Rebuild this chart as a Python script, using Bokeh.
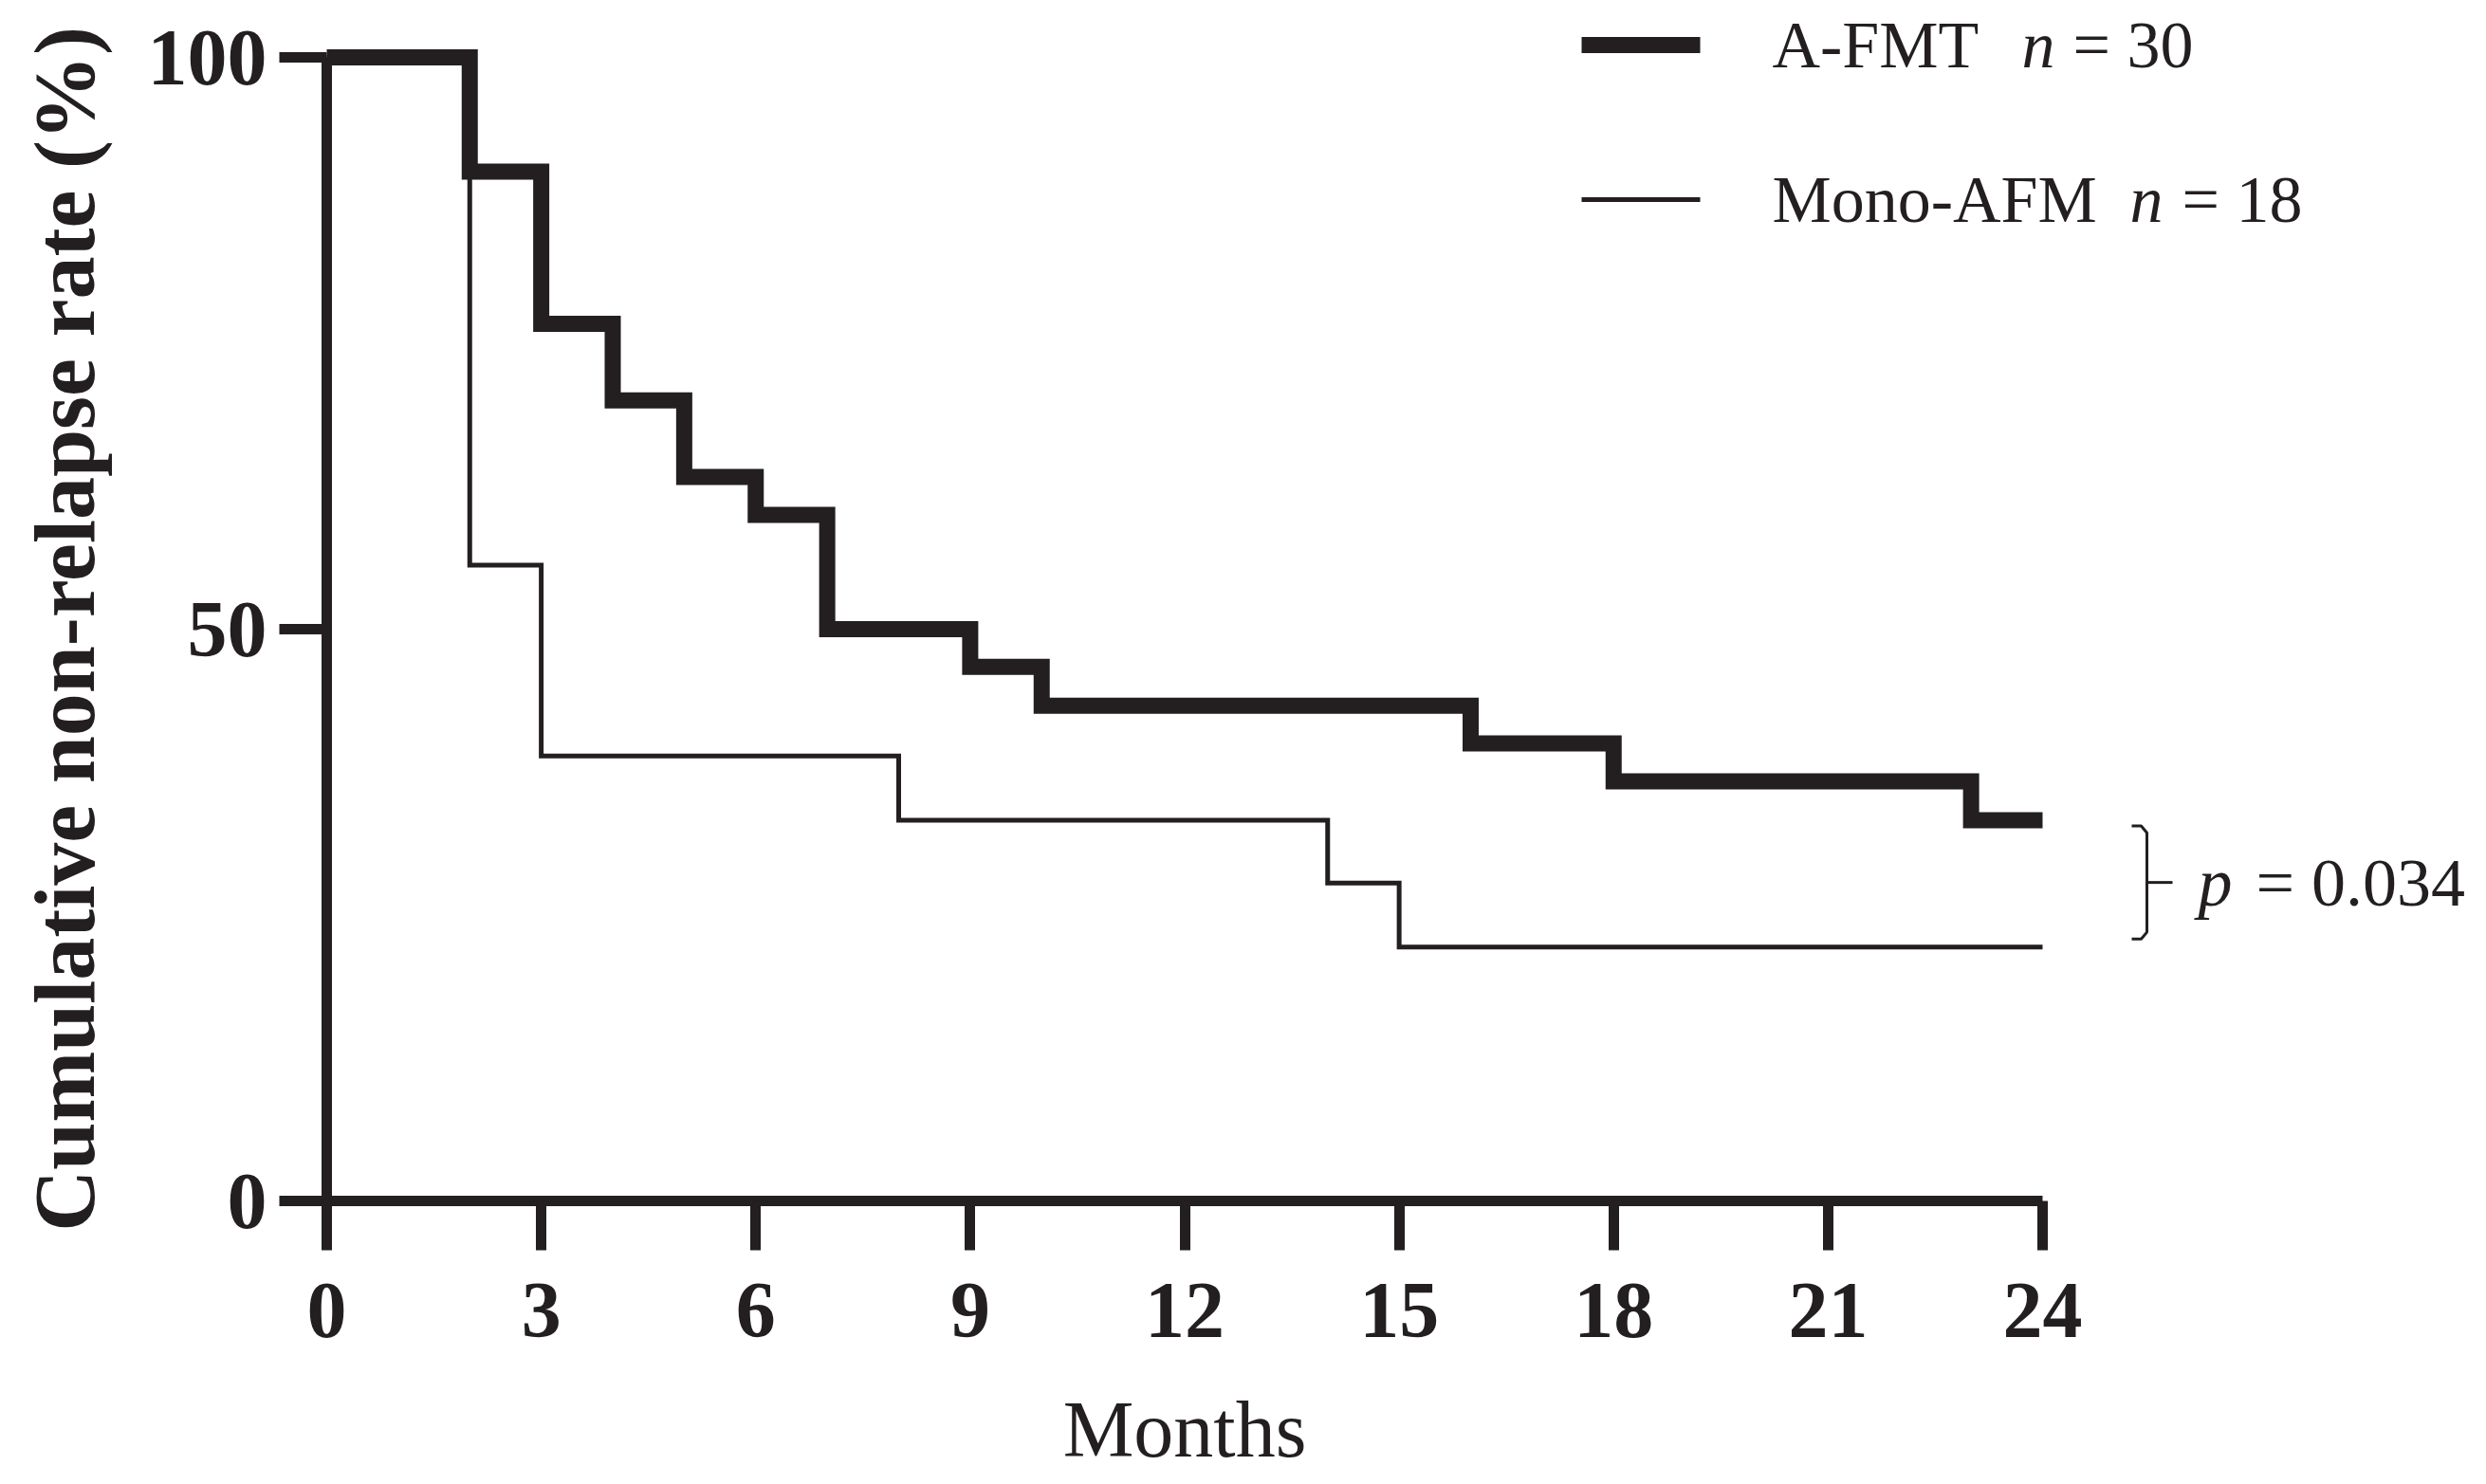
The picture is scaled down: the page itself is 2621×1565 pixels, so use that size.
from bokeh.plotting import figure
from bokeh.models import Range1d, FixedTicker
from bokeh.core.properties import value
from bokeh.embed import file_html
from bokeh.resources import INLINE

# ---- data ----
months_afmt = [0, 2, 3, 4, 5, 6, 7, 9, 10, 16, 18, 23, 24]
rate_afmt = [100.0, 90.0, 76.7, 70.0, 63.3, 60.0, 50.0, 46.7, 43.3, 40.0, 36.7, 33.3, 33.3]
months_mono = [0, 2, 3, 8, 14, 15, 24]
rate_mono = [100.0, 55.6, 38.9, 33.3, 27.8, 22.2, 22.2]
x_ticks = [0, 3, 6, 9, 12, 15, 18, 21, 24]
y_ticks = [0, 50, 100]
series_names = ["A-FMT", "Mono-AFM"]
series_n = ["30", "18"]
series_widths = [17, 5]
p_text = "0.034"

BLACK = "#231f20"
FONT = "Liberation Serif"

# ---- layout (page pixels of the reference) ----
W, H = 2621, 1565
FL, FR, FT, FB = 344, 2153, 60, 1266   # where x=0..24 and y=0..100 sit
XMAX, YMAX = 24, 100


def dx(px):
    return (px - FL) / (FR - FL) * XMAX


def dy(py):
    return (FB - py) / (FB - FT) * YMAX


p = figure(frame_width=FR - FL, frame_height=FB - FT,
           x_range=Range1d(0, XMAX), y_range=Range1d(0, YMAX),
           output_backend="svg", toolbar_location=None,
           min_border_left=FL, min_border_top=FT,
           min_border_right=W - FR - 2, min_border_bottom=H - FB - 6)
p.xgrid.visible = False
p.ygrid.visible = False
p.outline_line_color = None
p.background_fill_color = "white"
p.border_fill_color = "white"

xa = p.xaxis[0]
ya = p.yaxis[0]
xa.ticker = FixedTicker(ticks=x_ticks)
ya.ticker = FixedTicker(ticks=y_ticks)
for ax in (xa, ya):
    ax.axis_line_width = 11
    ax.axis_line_color = BLACK
    ax.major_tick_line_width = 11
    ax.major_tick_line_color = BLACK
    ax.major_tick_in = 0
    ax.minor_tick_in = 0
    ax.minor_tick_out = 0
    ax.major_label_text_font = FONT
    ax.major_label_text_font_style = "bold"
    ax.major_label_text_font_size = "84px"
    ax.major_label_text_color = BLACK
    ax.axis_label_text_font = FONT
    ax.axis_label_text_color = BLACK
xa.major_tick_out = 52
ya.major_tick_out = 50
xa.major_label_standoff = 35
ya.major_label_standoff = 13
xa.axis_label = "Months"
xa.axis_label_text_font_style = "normal"
xa.axis_label_text_font_size = "84px"
xa.axis_label_standoff = 48
ya.axis_label = "Cumulative non-relapse rate (%)"
ya.axis_label_text_font_style = "bold"
ya.axis_label_text_font_size = "90px"
ya.axis_label_standoff = 35

# survival curves (overlay level so the thick line at 100 % is not clipped)
p.step(months_mono, rate_mono, mode="after", line_width=series_widths[1],
       line_color=BLACK, line_join="miter", level="overlay")
p.step(months_afmt, rate_afmt, mode="after", line_width=series_widths[0],
       line_color=BLACK, line_join="miter", level="overlay")

# legend (drawn outside the plot frame, top right)
leg_rows_py = [47, 210]
leg_y = [dy(v) for v in leg_rows_py]
for yy, lw in zip(leg_y, series_widths):
    p.segment(x0=[dx(1667)], y0=[yy], x1=[dx(1792)], y1=[yy],
              line_width=lw, line_color=BLACK, level="overlay")
txt = dict(text_font=value(FONT), text_font_size=value("70px"),
           text_color=BLACK, text_baseline="middle", text_align="left",
           level="overlay")
p.text(x=[dx(1868)] * 2, y=leg_y, text=series_names, **txt)
p.text(x=[dx(2131), dx(2245)], y=leg_y, text=["n", "n"],
       text_font_style="italic", **txt)
p.text(x=[dx(2185), dx(2300)], y=leg_y, text=["= " + n for n in series_n], **txt)

# bracket linking the two curve ends + p value
top = rate_afmt[-1] - 0.5
bot = rate_mono[-1] + 0.7
mid = (top + bot) / 2
bx = dx(2263)
hook = dx(2247)
rx = 0.08
ry = 0.6
p.line([hook, bx - rx, bx, bx, bx - rx, hook],
       [top, top, top - ry, bot + ry, bot, bot],
       line_width=3, line_color=BLACK, level="overlay")
p.line([bx, dx(2290)], [mid, mid], line_width=3, line_color=BLACK, level="overlay")

ptxt = dict(txt)
ptxt["text_font_size"] = value("72px")
p.text(x=[dx(2317)], y=[mid], text=["p"], text_font_style="italic", **ptxt)
p.text(x=[dx(2378)], y=[mid], text=["= " + p_text], **ptxt)

open("out.html", "w").write(file_html(p, INLINE))
